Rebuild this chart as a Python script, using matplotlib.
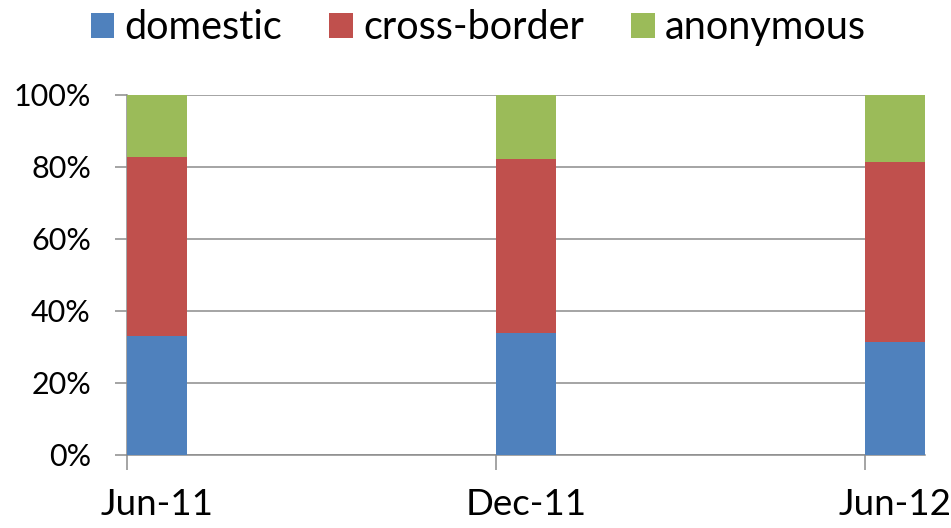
import datetime as dt
import matplotlib
matplotlib.use('Agg')
from matplotlib import pyplot as plt
import matplotlib.dates as mdates
import numpy as np

plt.rcParams['font.family'] = ['Lato', 'DejaVu Sans']

meses = [dt.date(2011, 6, 1), dt.date(2011, 12, 1), dt.date(2012, 6, 1)]
rotulos = ['Jun-11', 'Dec-11', 'Jun-12']
domestic = [33.1, 34.0, 31.5]
cross_border = [49.7, 48.1, 49.8]
anonymous = [17.2, 17.9, 18.7]

cores = ['#4F81BD', '#C0504D', '#9BBB59']
cinza = '#8C8C8C'

fig = plt.figure(figsize=(9.51, 5.28), dpi=100)
ax = fig.add_axes([127 / 951, 73 / 528, 798 / 951, 360 / 528])

x = mdates.date2num(meses)
largura = 30  # um mes, em dias
base = np.zeros(3)
for serie, nome, cor in zip([domestic, cross_border, anonymous],
                            ['domestic', 'cross-border', 'anonymous'], cores):
    ax.bar(x, serie, width=largura, bottom=base, align='edge', color=cor,
           label=nome, zorder=3)
    base += np.array(serie)

ax.set_xlim(mdates.date2num(dt.date(2011, 6, 1)), mdates.date2num(dt.date(2012, 7, 1)))
ax.set_ylim(0, 100)

# marcas no inicio do mes, rotulos no centro da barra
ax.set_xticks(x)
ax.set_xticklabels([])
ax.set_xticks(x + largura / 2, minor=True)
ax.set_xticklabels(rotulos, minor=True, fontsize=26.5)
ax.tick_params(axis='x', which='major', length=11, width=1.1, color=cinza, direction='out')
ax.tick_params(axis='x', which='minor', length=0, pad=24)

ax.set_yticks(np.arange(0, 101, 20))
ax.set_yticklabels([f'{v}%' for v in range(0, 101, 20)], fontsize=22)
ax.tick_params(axis='y', length=9, width=1.1, color=cinza, pad=17)

ax.grid(axis='y', color=cinza, linewidth=1.1, zorder=0)
for lado in ['top', 'right']:
    ax.spines[lado].set_visible(False)
for lado in ['left', 'bottom']:
    ax.spines[lado].set_color(cinza)
    ax.spines[lado].set_linewidth(1.1)

fig.legend(loc='upper center', bbox_to_anchor=(0.503, 1.05), ncol=3, frameon=False,
           fontsize=28.5, handlelength=0.6, handleheight=0.6, handletextpad=0.25,
           columnspacing=1.2)

plt.savefig('out.png', dpi=100)
